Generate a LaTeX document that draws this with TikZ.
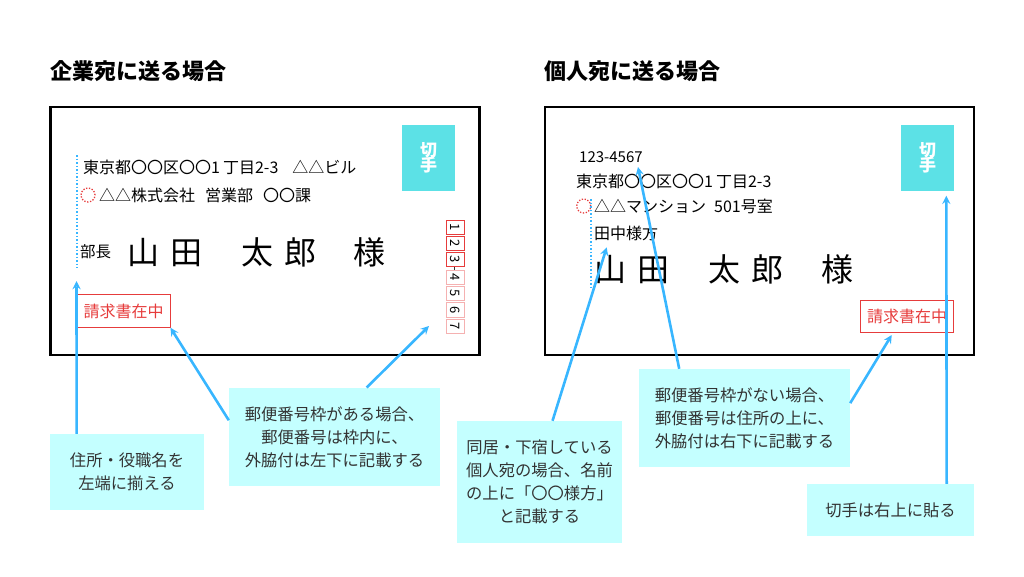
\documentclass[tikz,border=0pt]{standalone}
\usepackage{fontspec}
\setmainfont{Noto Sans CJK JP}
\definecolor{notefill}{HTML}{C4FFFF}
\definecolor{stampfill}{HTML}{5CE1E6}
\definecolor{arrowblue}{HTML}{38B6FF}
\definecolor{inkred}{HTML}{E63C3C}
\definecolor{noteink}{HTML}{333333}
\begin{document}
\begin{tikzpicture}[x=1pt,y=-1pt]
\tikzstyle{heading}=[anchor=west, inner sep=0pt, font=\fontsize{22}{26}\selectfont\bfseries, text=black]
\tikzstyle{envelope}=[draw=black, line width=2.4pt, inner sep=0pt, minimum width=429pt, minimum height=248pt]
\tikzstyle{stamp}=[fill=stampfill, inner sep=0pt, minimum width=53pt, minimum height=66.5pt, text=white, align=center, font=\fontsize{17}{18}\selectfont\bfseries]
\tikzstyle{addr}=[anchor=west, inner sep=0pt, font=\fontsize{16}{18}\selectfont, text=black]
\tikzstyle{bigname}=[anchor=west, inner sep=0pt, font=\fontsize{32}{36}\selectfont, text=black]
\tikzstyle{invoice}=[draw=inkred, line width=0.9pt, inner sep=0pt, minimum width=93pt, minimum height=32.5pt, text=inkred, font=\fontsize{16}{18}\selectfont]
\tikzstyle{seal}=[draw=inkred, circle, line width=1.3pt, dash pattern=on 1.3pt off 1.6pt, inner sep=0pt, minimum size=14pt]
\tikzstyle{zipcell}=[draw=inkred, line width=0.7pt, inner sep=0pt, minimum width=14.5pt, minimum height=18.5pt, rotate=-90, font=\fontsize{13}{14}\selectfont, text=black]
\tikzstyle{note}=[fill=notefill, inner sep=0pt, align=center, text=noteink, font=\fontsize{16.3}{22.8}\selectfont]
\tikzstyle{guide}=[draw=arrowblue, line width=2.2pt, dash pattern=on 1.5pt off 2pt]
\tikzstyle{pointer}=[draw=arrowblue, line width=2.6pt, -stealth]
\useasboundingbox (0,0) rectangle (1024,576);

% Headings
\node[heading] (headcorp) at (50,71) {企業宛に送る場合};
\node[heading] (headpers) at (544,71) {個人宛に送る場合};

% Envelopes
\node[envelope] (envcorp) at (265,231) {};
\node[envelope] (envpers) at (759.5,231) {};

% Stamps
\node[stamp] (stampcorp) at (428.7,158) {切\\[-3pt]手};
\node[stamp] (stamppers) at (927.5,158) {切\\[-3pt]手};

% Company envelope
\node[addr] (corpaddr) at (83,167) {東京都〇〇区〇〇1\hspace{3pt}丁目2-3\hspace{14pt}△△ビル};
\node[seal] (corpseal) at (88,195) {};
\node[addr] (corpfirm) at (99,195) {△△株式会社\hspace{10pt}営業部\hspace{10pt}〇〇課};
\node[addr, font=\fontsize{15.5}{18}\selectfont] (corptitle) at (80,252) {部長};
\node[bigname] (corpname) at (127,252) {山\hspace{11pt}田\hspace{39pt}太\hspace{11pt}郎\hspace{37pt}様};
\node[invoice] (corpinv) at (123.5,311) {請求書在中};
\coordinate (corptop) at (77,155);
\coordinate (corpbot) at (77,268);
\draw[guide] (corptop) -- (corpbot);

% Postcode cells
\foreach \n/\ypos/\tone in {1/227.2/100,2/243.5/100,3/259.5/100,4/277.2/40,5/293.3/40,6/309.7/40,7/326.2/40}{
  \node[zipcell, draw=inkred!\tone] (zip\n) at (455.3,\ypos) {\n};
}
\coordinate (dashtop) at (454.5,267);
\coordinate (dashbot) at (454.5,270);
\draw[noteink, line width=0.6pt] (dashtop) -- (dashbot);

% Personal envelope
\node[addr, font=\fontsize{15}{18}\selectfont] (perszip) at (579,157) {123-4567};
\node[addr] (persaddr) at (576,181) {東京都〇〇区〇〇1\hspace{3pt}丁目2-3};
\node[seal] (persseal) at (583.7,206) {};
\node[addr] (persflat) at (594,206) {△△マンション\hspace{8pt}501号室};
\node[addr] (pershost) at (594,233) {田中様方};
\node[bigname] (persname) at (594,269) {山\hspace{11pt}田\hspace{39pt}太\hspace{11pt}郎\hspace{38pt}様};
\node[invoice] (persinv) at (907.2,316.5) {請求書在中};
\coordinate (perstop) at (591,199);
\coordinate (persbot) at (591,288);
\draw[guide] (perstop) -- (persbot);

% Notes
\node[note, minimum width=154pt, minimum height=75.5pt] (notealign) at (127,471.75) {住所・役職名を\\左端に揃える};
\node[note, minimum width=211pt, minimum height=98.5pt] (notezip) at (334.5,437) {郵便番号枠がある場合、\\郵便番号は枠内に、\\外脇付は左下に記載する};
\node[note, minimum width=165pt, minimum height=122pt] (notehost) at (539.5,482) {同居・下宿している\\個人宛の場合、名前\\の上に「〇〇様方」\\と記載する};
\node[note, minimum width=211pt, minimum height=98pt] (notenozip) at (744.5,418) {郵便番号枠がない場合、\\郵便番号は住所の上に、\\外脇付は右下に記載する};
\node[note, minimum width=167pt, minimum height=52pt] (notestamp) at (890.5,510) {切手は右上に貼る};

% Pointer tips
\coordinate (tipalign) at (76.5,281);
\coordinate (tipzipcell) at (429,326);
\coordinate (tiphost) at (606.7,247.3);
\coordinate (tipzip) at (638,167);
\coordinate (tipinv) at (891.7,335);
\coordinate (tipstamp) at (946.3,195.7);

% Pointers
\draw[pointer] (notealign.143.2) -- (tipalign);
\draw[pointer] (notezip.171.4) -- (corpinv.south east);
\draw[pointer] (notezip.57.3) -- (tipzipcell);
\draw[pointer] (notehost.78.4) -- (tiphost);
\draw[pointer] (notenozip.143.6) -- (tipzip);
\draw[pointer] (notenozip.8.1) -- (tipinv);
\draw[pointer] (notestamp.25.1) -- (tipstamp);
\end{tikzpicture}
\end{document}
